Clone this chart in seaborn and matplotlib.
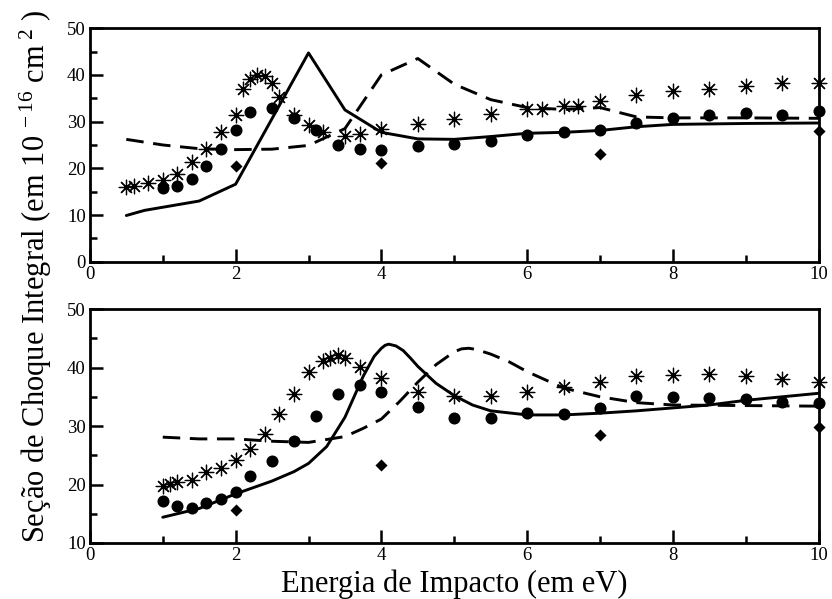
import numpy as np
import pandas as pd
import matplotlib
matplotlib.use("Agg")
import matplotlib.pyplot as plt
import seaborn as sns
from matplotlib.ticker import MultipleLocator

# ---------------- data: top panel ----------------
top_solid_x = [0.5, 0.75, 1.5, 2.0, 3.0, 3.5, 4.0, 4.5, 5.0, 5.5, 6.0, 6.5, 7.0, 7.5, 8.0, 9.0, 10.0]
top_solid_y = [9.9, 11.0, 13.0, 16.6, 44.7, 32.5, 27.7, 26.3, 26.2, 26.8, 27.5, 27.7, 28.1, 28.9, 29.4, 29.6, 29.7]

top_dash_x = [0.5, 1.0, 1.5, 2.0, 2.5, 3.0, 3.5, 4.0, 4.5, 5.0, 5.5, 6.0, 6.5, 7.0, 7.5, 8.0, 9.0, 10.0]
top_dash_y = [26.2, 25.0, 24.2, 24.0, 24.1, 24.9, 28.5, 40.0, 43.5, 38.0, 34.7, 33.0, 32.6, 33.0, 31.0, 30.8, 30.8, 30.7]

top_circ_x = [1.0, 1.2, 1.4, 1.6, 1.8, 2.0, 2.2, 2.5, 2.8, 3.1, 3.4, 3.7, 4.0, 4.5, 5.0, 5.5, 6.0, 6.5, 7.0, 7.5, 8.0, 8.5, 9.0, 9.5, 10.0]
top_circ_y = [15.8, 16.3, 17.8, 20.6, 24.2, 28.2, 32.0, 32.9, 30.8, 28.1, 24.9, 24.1, 23.9, 24.7, 25.2, 25.8, 27.2, 27.7, 28.1, 29.7, 30.8, 31.4, 31.9, 31.4, 32.2]

top_star_x = [0.5, 0.6, 0.8, 1.0, 1.2, 1.4, 1.6, 1.8, 2.0, 2.1, 2.2, 2.3, 2.4, 2.5, 2.6, 2.8, 3.0, 3.2, 3.5, 3.7, 4.0, 4.5, 5.0, 5.5, 6.0, 6.2, 6.5, 6.7, 7.0, 7.5, 8.0, 8.5, 9.0, 9.5, 10.0]
top_star_y = [16.1, 16.3, 16.9, 17.4, 18.8, 21.4, 24.1, 27.8, 31.4, 36.9, 39.2, 39.9, 39.7, 38.3, 35.2, 31.5, 29.2, 27.7, 26.9, 27.4, 28.4, 29.4, 30.6, 31.7, 32.6, 32.7, 33.3, 33.4, 34.4, 35.6, 36.5, 37.0, 37.6, 38.3, 38.3]

top_diam_x = [2.0, 4.0, 7.0, 10.0]
top_diam_y = [20.6, 21.1, 23.1, 27.9]

# ---------------- data: bottom panel ----------------
bot_solid_x = [1.0, 1.5, 2.0, 2.5, 2.8, 3.0, 3.25, 3.5, 3.75, 3.9, 4.0, 4.05, 4.1, 4.2, 4.3, 4.4, 4.5, 4.75, 5.0, 5.25, 5.5, 6.0, 6.5, 7.0, 7.5, 8.0, 8.5, 9.0, 9.5, 10.0]
bot_solid_y = [14.4, 15.9, 18.4, 20.6, 22.2, 23.6, 26.5, 31.5, 38.5, 41.9, 43.3, 43.8, 44.0, 43.7, 42.9, 41.6, 40.2, 37.3, 35.2, 33.6, 32.6, 31.9, 31.9, 32.2, 32.6, 33.1, 33.6, 34.4, 35.0, 35.6]

bot_dash_x = [1.0, 1.5, 2.0, 2.5, 3.0, 3.5, 3.75, 4.0, 4.25, 4.5, 4.75, 5.0, 5.1, 5.2, 5.3, 5.5, 5.75, 6.0, 6.5, 7.0, 7.5, 8.0, 9.0, 10.0]
bot_dash_y = [28.1, 27.8, 27.8, 27.4, 27.2, 28.2, 29.6, 31.2, 34.2, 37.5, 40.5, 42.7, 43.2, 43.3, 43.1, 42.3, 41.0, 39.3, 36.5, 35.0, 34.0, 33.6, 33.5, 33.4]

bot_circ_x = [1.0, 1.2, 1.4, 1.6, 1.8, 2.0, 2.2, 2.5, 2.8, 3.1, 3.4, 3.7, 4.0, 4.5, 5.0, 5.5, 6.0, 6.5, 7.0, 7.5, 8.0, 8.5, 9.0, 9.5, 10.0]
bot_circ_y = [17.1, 16.4, 15.9, 16.8, 17.5, 18.7, 21.4, 24.0, 27.5, 31.8, 35.5, 37.1, 35.8, 33.2, 31.4, 31.4, 32.2, 32.1, 33.1, 35.1, 34.9, 34.8, 34.6, 34.1, 34.0]

bot_star_x = [1.0, 1.1, 1.2, 1.4, 1.6, 1.8, 2.0, 2.2, 2.4, 2.6, 2.8, 3.0, 3.2, 3.3, 3.4, 3.5, 3.7, 4.0, 4.5, 5.0, 5.5, 6.0, 6.5, 7.0, 7.5, 8.0, 8.5, 9.0, 9.5, 10.0]
bot_star_y = [19.7, 20.1, 20.4, 20.8, 22.1, 22.8, 24.2, 26.0, 28.7, 32.1, 35.5, 39.3, 41.2, 41.6, 42.2, 41.6, 40.1, 38.2, 35.8, 35.1, 35.2, 35.9, 36.7, 37.6, 38.5, 38.8, 38.9, 38.5, 38.1, 37.6]

bot_diam_x = [2.0, 4.0, 7.0, 10.0]
bot_diam_y = [15.7, 23.4, 28.5, 29.8]

x_ticks = [0, 2, 4, 6, 8, 10]
top_yticks = [0, 10, 20, 30, 40, 50]
bot_yticks = [10, 20, 30, 40, 50]

# ---------------- style ----------------
sns.set_style("ticks")
plt.rcParams['font.family'] = ['Liberation Serif', 'DejaVu Serif']
plt.rcParams['mathtext.fontset'] = 'custom'
plt.rcParams['mathtext.rm'] = 'Liberation Serif'
plt.rcParams['mathtext.it'] = 'Liberation Serif:italic'
plt.rcParams['axes.linewidth'] = 2.0
plt.rcParams['axes.edgecolor'] = 'black'
plt.rcParams['xtick.color'] = 'black'
plt.rcParams['ytick.color'] = 'black'
plt.rcParams['text.color'] = 'black'
plt.rcParams['axes.labelcolor'] = 'black'

fig = plt.figure(figsize=(8.32, 5.99), dpi=100)
ax1 = fig.add_axes([0.108, 0.563, 0.876, 0.390])
ax2 = fig.add_axes([0.108, 0.0935, 0.876, 0.3905])

def draw(ax, sx, sy, dx, dy, cx, cy, stx, sty, mx, my, yticks, ylim):
    sns.lineplot(x=sx, y=sy, ax=ax, color='black', linewidth=2.1, sort=False, estimator=None)
    sns.lineplot(x=dx, y=dy, ax=ax, color='black', linewidth=2.1, sort=False, estimator=None,
                 linestyle=(0, (6, 3.3)))
    sns.scatterplot(x=cx, y=cy, ax=ax, color='black', marker='o', s=75, edgecolor='black',
                    linewidth=0, clip_on=False, zorder=5)
    sns.scatterplot(x=stx, y=sty, ax=ax, color='black', marker=(8, 2, 0), s=110,
                    linewidth=0.9, clip_on=False, zorder=5)
    sns.scatterplot(x=mx, y=my, ax=ax, color='black', marker='D', s=38, edgecolor='black',
                    linewidth=0, clip_on=False, zorder=5)
    ax.set_xlim(0, 10)
    ax.set_ylim(*ylim)
    ax.set_xticks(x_ticks)
    ax.set_xticklabels([str(t) for t in x_ticks])
    ax.set_yticks(yticks)
    ax.set_yticklabels([str(t) for t in yticks])
    ax.xaxis.set_minor_locator(MultipleLocator(1))
    ax.yaxis.set_minor_locator(MultipleLocator(5))
    ax.tick_params(which='major', direction='in', length=9.5, width=1.8, labelsize=13.5,
                   top=False, right=False, pad=3, colors='black')
    ax.tick_params(which='minor', direction='in', length=4.8, width=1.8, top=False, right=False,
                   colors='black')
    for s in ax.spines.values():
        s.set_visible(True)
        s.set_linewidth(2.0)
        s.set_color('black')
    ax.set_xlabel('')
    ax.set_ylabel('')

draw(ax1, top_solid_x, top_solid_y, top_dash_x, top_dash_y, top_circ_x, top_circ_y,
     top_star_x, top_star_y, top_diam_x, top_diam_y, top_yticks, (0, 50))
draw(ax2, bot_solid_x, bot_solid_y, bot_dash_x, bot_dash_y, bot_circ_x, bot_circ_y,
     bot_star_x, bot_star_y, bot_diam_x, bot_diam_y, bot_yticks, (10, 50))

fig.text(0.546, 0.0, 'Energia de Impacto (em eV)', ha='center', va='bottom', fontsize=22)
fig.text(0.043, 0.538, r'Seção de Choque Integral (em 10$^{\ -16}$ cm$^{\ 2}$ )',
         rotation=90, ha='center', va='center', fontsize=22)

fig.savefig('out.png', dpi=100)
